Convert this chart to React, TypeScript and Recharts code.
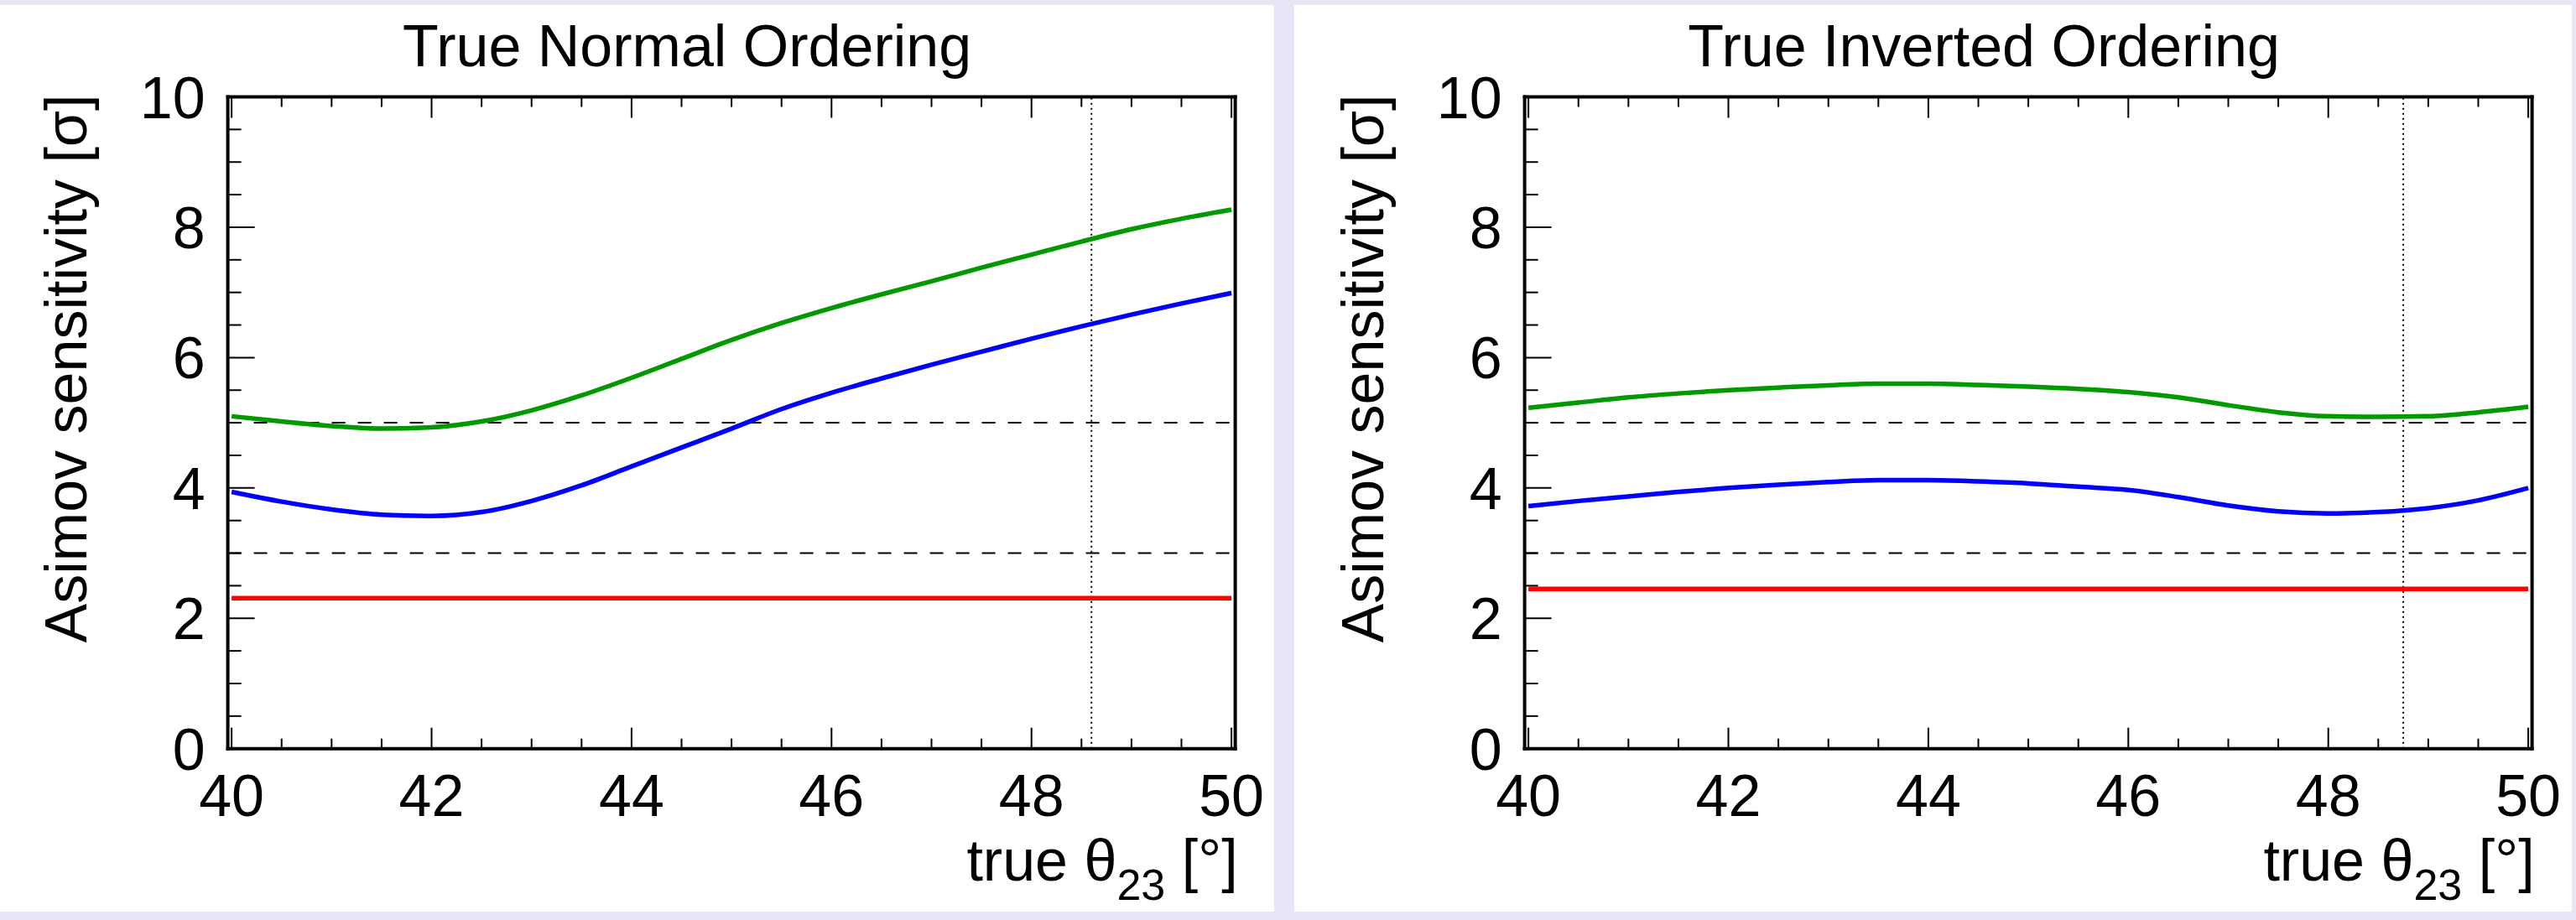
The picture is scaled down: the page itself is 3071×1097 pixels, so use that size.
import React from 'react';
import { LineChart, Line, XAxis, YAxis, ReferenceLine, Label } from 'recharts';

// ---- data ----
const theta = [40, 40.5, 41, 41.5, 42, 42.5, 43, 43.5, 44, 44.5, 45, 45.5, 46, 46.5, 47, 47.5, 48, 48.5, 49, 49.5, 50];

const greenNO = [5.10, 5.02, 4.95, 4.91, 4.93, 5.02, 5.19, 5.42, 5.69, 5.98, 6.27, 6.53, 6.76, 6.97, 7.17, 7.38, 7.58, 7.78, 7.97, 8.13, 8.27];
const blueNO = [3.94, 3.79, 3.67, 3.59, 3.57, 3.63, 3.80, 4.04, 4.33, 4.62, 4.91, 5.21, 5.46, 5.68, 5.89, 6.09, 6.29, 6.48, 6.66, 6.83, 6.99];
const redNO = 2.31;
const bestFitNO = 48.6;

const greenIO = [5.23, 5.31, 5.39, 5.45, 5.50, 5.54, 5.575, 5.60, 5.60, 5.58, 5.555, 5.52, 5.47, 5.39, 5.27, 5.16, 5.10, 5.09, 5.10, 5.16, 5.245];
const blueIO = [3.72, 3.80, 3.87, 3.94, 4.00, 4.05, 4.09, 4.12, 4.12, 4.10, 4.07, 4.02, 3.97, 3.86, 3.73, 3.64, 3.61, 3.63, 3.69, 3.81, 4.00];
const redIO = 2.45;
const bestFitIO = 48.75;

const xTicks = [40, 40.5, 41, 41.5, 42, 42.5, 43, 43.5, 44, 44.5, 45, 45.5, 46, 46.5, 47, 47.5, 48, 48.5, 49, 49.5, 50];
const xMajor = [40, 42, 44, 46, 48, 50];
const yTicks = [0, 0.5, 1, 1.5, 2, 2.5, 3, 3.5, 4, 4.5, 5, 5.5, 6, 6.5, 7, 7.5, 8, 8.5, 9, 9.5, 10];
const yMajor = [0, 2, 4, 6, 8, 10];
const sigmaLevels = [3, 5];

const titles = ['True Normal Ordering', 'True Inverted Ordering'];

// ---- style ----
const FONT = "'Liberation Sans', Arial, Helvetica, sans-serif";
const FS = 70;
const GREEN = '#009900';
const BLUE = '#0000ff';
const RED = '#ff0000';
const BG = '#e6e6f6';
const W = 1519;
const H = 1097;
const LW = 5.5;

const XBottomTick = (p: any) => {
  const { x, y, payload } = p;
  const major = xMajor.includes(payload.value);
  return (
    <g>
      <line x1={x} x2={x} y1={y} y2={y - (major ? 25 : 12)} stroke="#000" strokeWidth={2} />
      {major && (
        <text x={x} y={y + 80} textAnchor="middle" fontSize={FS} fontFamily={FONT} fill="#000">
          {payload.value}
        </text>
      )}
    </g>
  );
};

const XTopTick = (p: any) => {
  const { x, y, payload } = p;
  const major = xMajor.includes(payload.value);
  return <line x1={x} x2={x} y1={y} y2={y + (major ? 25 : 12)} stroke="#000" strokeWidth={2} />;
};

const YLeftTick = (p: any) => {
  const { x, y, payload } = p;
  const major = yMajor.includes(payload.value);
  return (
    <g>
      <line x1={x} x2={x + (major ? 32 : 16)} y1={y} y2={y} stroke="#000" strokeWidth={2} />
      {major && (
        <text x={x - 27} y={y + 25} textAnchor="end" fontSize={FS} fontFamily={FONT} fill="#000">
          {payload.value}
        </text>
      )}
    </g>
  );
};

const YRightTick = (p: any) => {
  const { x, y, payload } = p;
  const major = yMajor.includes(payload.value);
  return <line x1={x} x2={x - (major ? 32 : 16)} y1={y} y2={y} stroke="#000" strokeWidth={2} />;
};

const axisLine = { stroke: '#000', strokeWidth: 4, strokeLinecap: 'square' as const };

function Panel({ title, green, blue, red, bestFit, left }: any) {
  const data = theta.map((t, i) => ({ x: t, g: green[i], b: blue[i], r: red }));
  return (
    <div style={{ position: 'absolute', left, top: 0, width: W, height: H }}>
      <LineChart width={W} height={H} data={data} margin={{ top: 114.5, right: 45.4, bottom: 0, left: 0 }}>
        <XAxis
          xAxisId="b"
          dataKey="x"
          type="number"
          domain={[39.962, 50.038]}
          ticks={xTicks}
          interval={0}
          tickSize={0}
          tickMargin={0}
          tickLine={false}
          axisLine={axisLine}
          tick={<XBottomTick />}
          height={204.3}
          orientation="bottom"
        >
          <Label
            content={(lp: any) => {
              const vb = lp.viewBox;
              return (
                <text x={vb.x + vb.width + 3} y={vb.y + 157} textAnchor="end" fontSize={FS} fontFamily={FONT} fill="#000">
                  true θ<tspan fontSize={52} dy={23}>23</tspan>
                  <tspan dy={-23}> [°]</tspan>
                </text>
              );
            }}
          />
        </XAxis>
        <XAxis
          xAxisId="t"
          dataKey="x"
          type="number"
          domain={[39.962, 50.038]}
          ticks={xTicks}
          interval={0}
          tickSize={0}
          tickMargin={0}
          tickLine={false}
          axisLine={axisLine}
          tick={<XTopTick />}
          height={1}
          orientation="top"
        >
          <Label
            content={(lp: any) => {
              const vb = lp.viewBox;
              return (
                <text x={vb.x + vb.width / 2 - 53} y={vb.y - 36} textAnchor="middle" fontSize={FS} fontFamily={FONT} fill="#000">
                  {title}
                </text>
              );
            }}
          />
        </XAxis>
        <YAxis
          yAxisId="l"
          type="number"
          domain={[0, 10]}
          ticks={yTicks}
          interval={0}
          tickSize={0}
          tickMargin={0}
          tickLine={false}
          axisLine={axisLine}
          tick={<YLeftTick />}
          width={271.6}
          orientation="left"
        >
          <Label
            content={(lp: any) => {
              const vb = lp.viewBox;
              const x = vb.x + vb.width - 169;
              const y = vb.y - 3;
              return (
                <text x={x} y={y} transform={`rotate(-90, ${x}, ${y})`} textAnchor="end" fontSize={FS} fontFamily={FONT} fill="#000">
                  Asimov sensitivity [σ]
                </text>
              );
            }}
          />
        </YAxis>
        <YAxis
          yAxisId="r"
          type="number"
          domain={[0, 10]}
          ticks={yTicks}
          interval={0}
          tickSize={0}
          tickMargin={0}
          tickLine={false}
          axisLine={axisLine}
          tick={<YRightTick />}
          width={1}
          orientation="right"
        />
        {sigmaLevels.map((s) => (
          <ReferenceLine key={s} xAxisId="b" yAxisId="l" y={s} stroke="#000" strokeWidth={2} strokeDasharray="16 15" />
        ))}
        <ReferenceLine xAxisId="b" yAxisId="l" x={bestFit} stroke="#000" strokeWidth={2} strokeDasharray="2 4" />
        <Line xAxisId="b" yAxisId="l" dataKey="r" type="linear" stroke={RED} strokeWidth={LW} dot={false} isAnimationActive={false} />
        <Line xAxisId="b" yAxisId="l" dataKey="b" type="monotone" stroke={BLUE} strokeWidth={LW} dot={false} isAnimationActive={false} />
        <Line xAxisId="b" yAxisId="l" dataKey="g" type="monotone" stroke={GREEN} strokeWidth={LW} dot={false} isAnimationActive={false} />
      </LineChart>
    </div>
  );
}

export default function App() {
  return (
    <div style={{ position: 'absolute', left: 0, top: 0, width: 3071, height: 1097, background: BG, overflow: 'hidden' }}>
      <div style={{ position: 'absolute', left: 0, top: 6, width: 1519, height: 1081, background: '#fff' }} />
      <div style={{ position: 'absolute', left: 1543, top: 6, width: 1523, height: 1081, background: '#fff' }} />
      <Panel title={titles[0]} green={greenNO} blue={blueNO} red={redNO} bestFit={bestFitNO} left={0} />
      <Panel title={titles[1]} green={greenIO} blue={blueIO} red={redIO} bestFit={bestFitIO} left={1546.4} />
    </div>
  );
}
